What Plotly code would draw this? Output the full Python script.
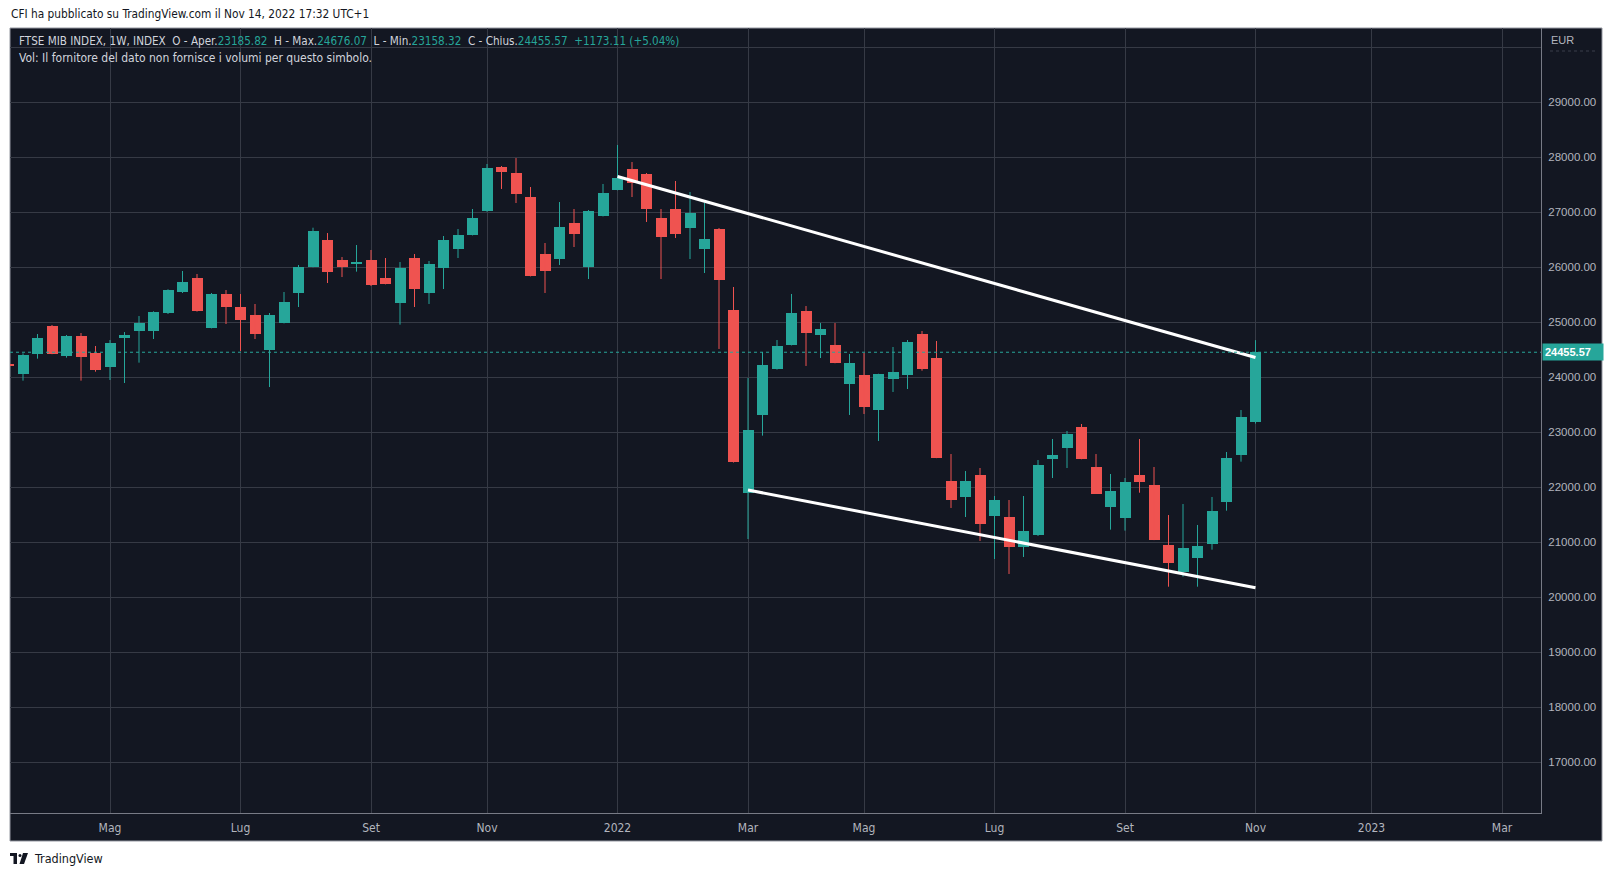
import plotly.graph_objects as go
import pandas as pd

# ---------------- data ----------------
week_start = "2021-03-15"
opens = [24240, 24060, 24430, 24933, 24393, 24751, 24442, 24187, 24720, 24848,
         24848, 25169, 25551, 25805, 24896, 25514, 25278, 25133, 24496, 24987,
         25533, 26005, 26496, 26133, 26060, 26133, 25805, 25351, 26169, 25533,
         25987, 26333, 26587, 27024, 27824, 27714, 27278, 26242, 26151, 26805,
         26005, 26933, 27405, 27787, 27696, 26896, 27060, 26715, 26333, 26696,
         25224, 21896, 23315, 24151, 24587, 25205, 24769, 24587, 23878, 24042,
         23405, 23969, 24042, 24787, 24351, 22115, 21824, 22224, 21478, 21460,
         20915, 21133, 22515, 22715, 23096, 22369, 21648, 21448, 22224, 22042,
         20951, 20466, 20721, 20975, 21739, 22593, 23185.82]
highs = [24270, 24436, 24787, 24951, 24769, 24805, 24569, 24678, 24823, 25114,
         25200, 25600, 25933, 25878, 25533, 25587, 25514, 25333, 25169, 25551,
         26042, 26720, 26623, 26187, 26405, 26315, 26169, 26096, 26242, 26115,
         26569, 26696, 27060, 27878, 27842, 27987, 27460, 26442, 27187, 27060,
         27042, 27515, 28224, 27914, 27714, 27060, 27569, 27369, 27169, 26715,
         25642, 23987, 24460, 24678, 25515, 25296, 24987, 24987, 24424, 24442,
         24065, 24551, 24678, 24842, 24660, 22605, 22296, 22351, 21842, 21769,
         21842, 22496, 22878, 23024, 23151, 22605, 22242, 22169, 22878, 22369,
         21496, 21696, 21315, 21824, 22642, 23405, 24676.07]
lows = [24170, 23939, 24339, 24420, 24357, 23939, 24102, 23951, 23896, 24266,
        24696, 25151, 25533, 25195, 24890, 24969, 24478, 24696, 23823, 24980,
        25278, 26000, 25714, 25823, 25921, 25660, 25690, 24957, 25278, 25333,
        25605, 26169, 26580, 27010, 27424, 27169, 25835, 25533, 26042, 26369,
        25787, 26925, 27400, 27278, 26824, 25787, 26533, 26151, 25896, 24515,
        22450, 21060, 22939, 24140, 24580, 24206, 24351, 24255, 23315, 23333,
        22842, 23733, 23787, 24120, 22530, 21624, 21460, 21024, 20696, 20424,
        20733, 21115, 22169, 22351, 22510, 21880, 21230, 21212, 21902, 21040,
        20193, 20375, 20193, 20866, 21575, 22466, 23158.32]
closes = [24200, 24405, 24714, 24430, 24751, 24369, 24133, 24624, 24769, 24987,
          25187, 25587, 25733, 25205, 25514, 25278, 25042, 24787, 25133, 25369,
          26005, 26660, 25914, 26005, 26085, 25678, 25696, 25987, 25605, 26060,
          26496, 26587, 26896, 27805, 27733, 27333, 25842, 25933, 26733, 26605,
          27024, 27351, 27624, 27533, 27060, 26551, 26605, 26987, 26515, 25769,
          22460, 23042, 24224, 24569, 25169, 24805, 24878, 24260, 24260, 23460,
          24060, 24096, 24642, 24151, 22533, 21769, 22115, 21333, 21769, 20915,
          21206, 22405, 22587, 22969, 22515, 21884, 21933, 22096, 22102, 21048,
          20630, 20896, 20933, 21569, 22533, 23282.46, 24455.57]

upper_dates = ["2022-01-03", "2022-11-07"]
upper_vals = [27650, 24360]
lower_dates = ["2022-03-07", "2022-11-07"]
lower_vals = [21950, 20175]

tick_dates = ["2021-05-03", "2021-07-05", "2021-09-06", "2021-11-01", "2022-01-03",
              "2022-03-07", "2022-05-02", "2022-07-04", "2022-09-05", "2022-11-07",
              "2023-01-02", "2023-03-06"]
tick_text = ["Mag", "Lug", "Set", "Nov", "2022", "Mar", "Mag", "Lug", "Set", "Nov",
             "2023", "Mar"]
price_ticks = list(range(17000, 30001, 1000))

# ---------------- styling ----------------
W, H = 1614, 877
L, R, T, B = 10, 1541, 28, 813           # plot area in pixels
BG = "#131722"
GRID = "#363a45"
UP = "#26a69a"
DOWN = "#ef5350"
TXT = "#b2b5be"
NARROW = "Liberation Sans Narrow, DejaVu Sans Condensed, Arial Narrow, sans-serif"
REG = "Liberation Sans, Arial, sans-serif"


def px(x):
    return (x - L) / (R - L)


def py(y):
    return (B - y) / (B - T)


dates = pd.date_range(week_start, periods=len(opens), freq="7D")
week_ms = 7 * 86400000
body_w = week_ms * 11 / 14.5

up_idx = [i for i in range(len(opens)) if closes[i] >= opens[i]]
dn_idx = [i for i in range(len(opens)) if closes[i] < opens[i]]

fig = go.Figure()


def wick_xy(idx):
    xs, ys = [], []
    for i in idx:
        xs += [dates[i], dates[i], None]
        ys += [lows[i], highs[i], None]
    return xs, ys


for idx, col in ((up_idx, UP), (dn_idx, DOWN)):
    xs, ys = wick_xy(idx)
    fig.add_trace(go.Scatter(x=xs, y=ys, mode="lines", line=dict(color=col, width=1),
                             hoverinfo="skip", showlegend=False))
    fig.add_trace(go.Bar(
        x=[dates[i] for i in idx],
        y=[max(abs(closes[i] - opens[i]), 18) for i in idx],
        base=[min(opens[i], closes[i]) for i in idx],
        width=[body_w] * len(idx),
        marker=dict(color=col, line=dict(width=0)),
        showlegend=False, hoverinfo="skip"))

fig.add_trace(go.Scatter(x=pd.to_datetime(upper_dates), y=upper_vals, mode="lines",
                         line=dict(color="white", width=3), showlegend=False, hoverinfo="skip"))
fig.add_trace(go.Scatter(x=pd.to_datetime(lower_dates), y=lower_vals, mode="lines",
                         line=dict(color="white", width=3), showlegend=False, hoverinfo="skip"))

# x range from pixel geometry (bar spacing 14.5 px, first full bar centre at x=23)
base = dates[1]
x0 = base - pd.Timedelta(days=7 * (23 - L) / 14.5)
x1 = base + pd.Timedelta(days=7 * (R - 23) / 14.5)
y_top = 26000 + (267.3 - T) / 0.055
y_bot = 26000 - (B - 267.3) / 0.055

last = len(opens) - 1
chg = closes[last] - closes[last - 1]
pct = chg / closes[last - 1] * 100

shapes = [
    # dark panel
    dict(type="rect", xref="paper", yref="paper", x0=px(10), x1=px(1602), y0=py(841), y1=py(28),
         fillcolor=BG, line=dict(color="#9598a1", width=1), layer="below"),
    # last price dotted line
    dict(type="line", xref="paper", yref="y", x0=0, x1=1, y0=closes[last], y1=closes[last],
         line=dict(color=UP, width=1, dash="dot")),
    # EUR underline
    dict(type="line", xref="paper", yref="paper", x0=px(1550), x1=px(1596), y0=py(51), y1=py(51),
         line=dict(color="#3a3e4a", width=1, dash="dot")),
    # TradingView logo (approximation)
    dict(type="rect", xref="paper", yref="paper", x0=px(10), x1=px(17), y0=py(856), y1=py(853),
         fillcolor="#131722", line=dict(width=0)),
    dict(type="rect", xref="paper", yref="paper", x0=px(13.5), x1=px(17), y0=py(864), y1=py(853),
         fillcolor="#131722", line=dict(width=0)),
    dict(type="circle", xref="paper", yref="paper", x0=px(18.5), x1=px(21.5), y0=py(857), y1=py(854),
         fillcolor="#131722", line=dict(width=0)),
    dict(type="path", xref="paper", yref="paper",
         path=f"M {px(23)} {py(853)} L {px(28)} {py(853)} L {px(24)} {py(864)} L {px(19.5)} {py(864)} Z",
         fillcolor="#131722", line=dict(width=0)),
]

v = lambda s: f'<span style="color:{UP}">{s}</span>'
sp = "\u00a0\u00a0"
header1 = (f"FTSE MIB INDEX, 1W, INDEX{sp}O - Aper.{v(f'{opens[last]:.2f}')}{sp}"
           f"H - Max.{v(f'{highs[last]:.2f}')}{sp}L - Min.{v(f'{lows[last]:.2f}')}{sp}"
           f"C - Chius.{v(f'{closes[last]:.2f}')}{sp}{v(f'+{chg:.2f} (+{pct:.2f}%)')}")
header2 = "Vol: Il fornitore del dato non fornisce i volumi per questo simbolo."

annotations = [
    dict(text="CFI ha pubblicato su TradingView.com il Nov 14, 2022 17:32 UTC+1",
         xref="paper", yref="paper", x=px(9), y=py(14), xanchor="left", yanchor="middle",
         showarrow=False, font=dict(family=NARROW, size=11.8, color="#131722")),
    dict(text=header1, xref="paper", yref="paper", x=px(17), y=py(41), xanchor="left",
         yanchor="middle", showarrow=False, font=dict(family=NARROW, size=11.6, color="#d1d4dc")),
    dict(text=header2, xref="paper", yref="paper", x=px(17), y=py(58), xanchor="left",
         yanchor="middle", showarrow=False, font=dict(family=NARROW, size=12, color="#d1d4dc")),
    dict(text="EUR", xref="paper", yref="paper", x=px(1549), y=py(40), xanchor="left",
         yanchor="middle", showarrow=False, font=dict(family=REG, size=11, color=TXT)),
    dict(text=f"<b>{closes[last]:.2f}</b>", xref="paper", yref="y", x=px(1542), y=closes[last],
         xanchor="left", yanchor="middle", showarrow=False, bgcolor=UP, borderpad=2,
         width=56, align="left", font=dict(family=REG, size=11, color="white")),
    dict(text="TradingView", xref="paper", yref="paper", x=px(32), y=py(858), xanchor="left",
         yanchor="middle", showarrow=False, font=dict(family=NARROW, size=12.5, color="#131722")),
]

fig.update_layout(
    width=W, height=H, autosize=False,
    margin=dict(l=L, r=W - R, t=T, b=H - B, pad=0),
    paper_bgcolor="white", plot_bgcolor=BG,
    barmode="overlay", bargap=0, showlegend=False,
    shapes=shapes, annotations=annotations,
    xaxis=dict(type="date", range=[x0, x1], tickvals=pd.to_datetime(tick_dates),
               ticktext=tick_text, showgrid=True, gridcolor=GRID, gridwidth=1,
               zeroline=False, showline=True, linecolor="#787b86", linewidth=1,
               ticks="", ticklabelstandoff=4, automargin=False,
               tickfont=dict(family=NARROW, size=12, color=TXT), fixedrange=True),
    yaxis=dict(range=[y_bot, y_top], side="right", tickvals=price_ticks,
               ticktext=[f"{t:.2f}" if t < 30000 else "" for t in price_ticks],
               showgrid=True, gridcolor=GRID, gridwidth=1, zeroline=False,
               showline=True, linecolor="#787b86", linewidth=1, ticks="",
               ticklabelstandoff=4, automargin=False,
               tickfont=dict(family=REG, size=11.5, color=TXT), fixedrange=True),
)

fig.write_html("out.html")
